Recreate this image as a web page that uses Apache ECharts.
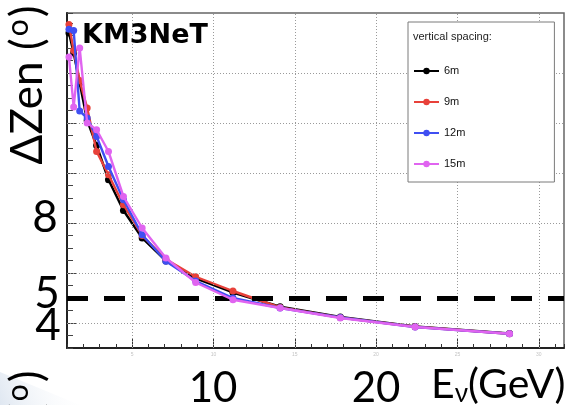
<!DOCTYPE html>
<html>
<head>
<meta charset="utf-8">
<script src="https://cdn.jsdelivr.net/npm/echarts@6/dist/echarts.min.js"></script>
<style>
  html, body { margin: 0; padding: 0; background: #fff; }
  #chart { width: 576px; height: 405px; }
</style>
</head>
<body>
<div id="chart"></div>
<script>
// Neutrino energy bin centres (GeV)
var energy = [1.12, 1.41, 1.78, 2.24, 2.82, 3.55, 4.47, 5.62, 7.08, 8.91, 11.2, 14.1, 17.8, 22.4, 28.2];

// Zenith resolution (degrees) for each vertical spacing
var dz6m  = [15.6, 14.8, 13.6, 12.1, 11.1, 9.73, 8.5, 7.4, 6.48, 5.78, 5.22, 4.65, 4.24, 3.86, 3.58];
var dz9m  = [15.94, 14.9, 13.7, 12.6, 10.86, 9.93, 8.73, 7.5, 6.55, 5.85, 5.28, 4.62, 4.22, 3.85, 3.57];
var dz12m = [15.75, 15.7, 12.48, 12.2, 11.46, 10.26, 8.93, 7.53, 6.47, 5.68, 5.0, 4.6, 4.22, 3.84, 3.57];
var dz15m = [14.64, 12.64, 15.0, 12.0, 11.73, 10.86, 9.06, 7.8, 6.6, 5.62, 4.93, 4.6, 4.2, 3.84, 3.57];

var seriesNames = ['6m', '9m', '12m', '15m'];
var seriesColors = ['#000000', '#e8413a', '#3f4ff2', '#e064f0'];
var seriesValues = [dz6m, dz9m, dz12m, dz15m];

// Axis ranges and grid positions
var xRange = [1, 31.55];
var yRange = [3, 16.4];
var xMajor = [5, 10, 15, 20, 25, 30];
var yMajor = [4, 6, 8, 10, 12, 14];
var threshold = 5;

// Large annotation labels
var yBigLabels = ['8', '5', '4'];
var xBigLabels = ['10', '20'];

function pairs(xs, ys) {
  return xs.map(function (x, i) { return [x, ys[i]]; });
}

var chart = echarts.init(document.getElementById('chart'), null, { renderer: 'canvas' });

var gridLineStyle = { color: '#9a9a9a', width: 1, type: [1, 2] };

var series = [
  {
    name: 'grid',
    type: 'line',
    data: [],
    z: 1,
    silent: true,
    markLine: {
      silent: true,
      symbol: 'none',
      label: { show: false },
      lineStyle: gridLineStyle,
      data: xMajor.map(function (v) { return { xAxis: v }; })
        .concat(yMajor.map(function (v) { return { yAxis: v }; }))
    }
  },
  {
    name: 'threshold',
    type: 'line',
    data: [],
    z: 2,
    silent: true,
    markLine: {
      silent: true,
      symbol: 'none',
      label: { show: false },
      lineStyle: { color: '#000', width: 5, type: [21, 16], dashOffset: 0 },
      data: [{ yAxis: threshold }]
    }
  }
];

seriesNames.forEach(function (name, i) {
  series.push({
    name: name,
    type: 'line',
    data: pairs(energy, seriesValues[i]),
    z: 3 + i,
    symbol: 'circle',
    symbolSize: 7,
    showSymbol: true,
    color: seriesColors[i],
    lineStyle: { width: 2.4, color: seriesColors[i] },
    itemStyle: { color: seriesColors[i] },
    emphasis: { disabled: true }
  });
});

var bigFont = 'Lato, "Open Sans", sans-serif';

var graphics = [
  // bottom-left corner tint
  {
    type: 'polygon',
    silent: true,
    z: 0,
    shape: { points: [[0, 372], [0, 405], [80, 405]] },
    style: {
      fill: {
        type: 'linear', x: 0, y: 1, x2: 1, y2: 0,
        colorStops: [{ offset: 0, color: '#dfe7f1' }, { offset: 1, color: 'rgba(255,255,255,0)' }]
      }
    }
  },
  {
    type: 'text',
    x: 28, y: 85,
    rotation: Math.PI / 2,
    z: 10,
    style: {
      text: '{a|ΔZen (}{b|o}{a|)}',
      align: 'center',
      verticalAlign: 'middle',
      fill: '#000',
      rich: {
        a: { fontFamily: bigFont, fontSize: 44, fill: '#000', lineHeight: 50 },
        b: { fontFamily: bigFont, fontSize: 30, fill: '#000', lineHeight: 50, verticalAlign: 'top', padding: [0, 2, 0, 2] }
      }
    }
  },
  {
    type: 'text',
    x: 28, y: 450,
    rotation: Math.PI / 2,
    z: 10,
    style: {
      text: '{a|ΔZen (}{b|o}{a|)}',
      align: 'center',
      verticalAlign: 'middle',
      fill: '#000',
      rich: {
        a: { fontFamily: bigFont, fontSize: 44, fill: '#000', lineHeight: 50 },
        b: { fontFamily: bigFont, fontSize: 30, fill: '#000', lineHeight: 50, verticalAlign: 'top', padding: [0, 2, 0, 2] }
      }
    }
  },
  {
    type: 'text', x: 82, y: 36, z: 10,
    style: { text: 'KM3NeT', fontFamily: '"DejaVu Sans"', fontWeight: 'bold', fontSize: 27, fill: '#000', align: 'left', verticalAlign: 'middle' }
  },
  {
    type: 'text', x: 45, y: 218, z: 10,
    style: { text: yBigLabels[0], fontFamily: bigFont, fontSize: 44, fill: '#000', align: 'center', verticalAlign: 'middle' }
  },
  {
    type: 'text', x: 47, y: 294, z: 10,
    style: { text: yBigLabels[1], fontFamily: bigFont, fontSize: 44, fill: '#000', align: 'center', verticalAlign: 'middle' }
  },
  {
    type: 'text', x: 48, y: 326, z: 10,
    style: { text: yBigLabels[2], fontFamily: bigFont, fontSize: 44, fill: '#000', align: 'center', verticalAlign: 'middle' }
  },
  {
    type: 'text', x: 213, y: 388, z: 10,
    style: { text: xBigLabels[0], fontFamily: bigFont, fontSize: 42, fill: '#000', align: 'center', verticalAlign: 'middle' }
  },
  {
    type: 'text', x: 376, y: 388, z: 10,
    style: { text: xBigLabels[1], fontFamily: bigFont, fontSize: 42, fill: '#000', align: 'center', verticalAlign: 'middle' }
  },
  {
    type: 'text', x: 431, y: 385, z: 10,
    style: {
      text: '{a|E}{s|ν}{a|(GeV)}',
      align: 'left',
      verticalAlign: 'middle',
      rich: {
        a: { fontFamily: bigFont, fontSize: 41, fill: '#000', lineHeight: 44 },
        s: { fontFamily: bigFont, fontSize: 26, fill: '#000', lineHeight: 44, verticalAlign: 'bottom' }
      }
    }
  },
  {
    type: 'text', x: 413, y: 37, z: 10,
    style: { text: 'vertical spacing:', fontFamily: '"Liberation Sans", Arial, sans-serif', fontSize: 11, fill: '#222', align: 'left', verticalAlign: 'middle' }
  }
];

var option = {
  animation: false,
  backgroundColor: '#ffffff',
  grid: {
    left: 67, top: 13, width: 497, height: 335,
    show: true, borderColor: '#666', borderWidth: 1.5, backgroundColor: 'transparent',
    containLabel: false
  },
  legend: {
    data: seriesNames,
    orient: 'vertical',
    left: 408,
    top: 22,
    padding: [42, 89, 11, 5],
    itemWidth: 25,
    itemHeight: 8,
    itemGap: 17,
    backgroundColor: '#ffffff',
    borderColor: '#7a7a7a',
    borderWidth: 1,
    selectedMode: false,
    textStyle: { fontFamily: '"Liberation Sans", Arial, sans-serif', fontSize: 11, color: '#111', lineHeight: 14 },
    z: 8
  },
  xAxis: [
    {
      type: 'value', min: xRange[0], max: xRange[1], interval: 1,
      position: 'bottom',
      axisLine: { show: true, onZero: false, lineStyle: { color: '#222', width: 2 } },
      axisTick: { show: true, inside: true, length: 4, lineStyle: { color: '#333', width: 1 } },
      axisLabel: { show: false },
      splitLine: { show: false }
    },
    {
      type: 'value', min: xRange[0], max: xRange[1],
      position: 'bottom',
      axisLine: { show: false, onZero: false },
      axisTick: { show: true, inside: true, length: 9, customValues: xMajor, lineStyle: { color: '#333', width: 1 } },
      axisLabel: { show: true, customValues: xMajor, fontSize: 5, color: '#c4c4c4', margin: 4 },
      splitLine: { show: false }
    }
  ],
  yAxis: [
    {
      type: 'value', min: yRange[0], max: yRange[1], interval: 0.5,
      position: 'left',
      axisLine: { show: true, onZero: false, lineStyle: { color: '#222', width: 2 } },
      axisTick: { show: true, inside: true, length: 6, lineStyle: { color: '#444', width: 1 } },
      axisLabel: { show: false },
      splitLine: { show: false }
    },
    {
      type: 'value', min: yRange[0], max: yRange[1],
      position: 'left',
      axisLine: { show: false, onZero: false },
      axisTick: { show: true, inside: true, length: 10, customValues: yMajor, lineStyle: { color: '#444', width: 1 } },
      axisLabel: { show: false },
      splitLine: { show: false }
    }
  ],
  series: series,
  graphic: graphics
};

chart.setOption(option);
</script>
</body>
</html>
